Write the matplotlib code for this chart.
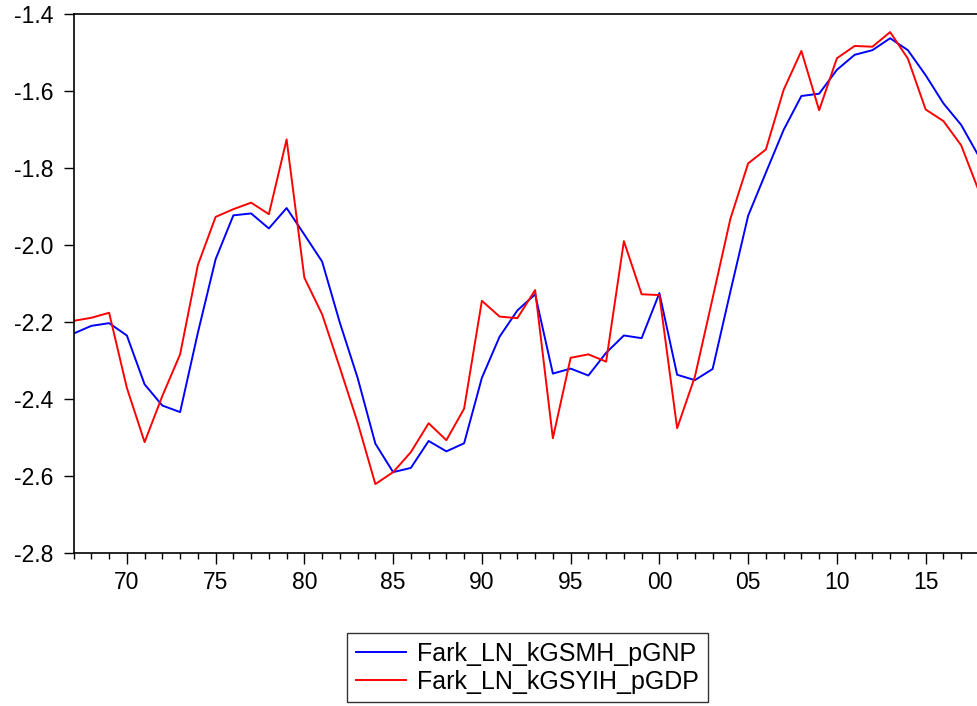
import matplotlib
matplotlib.use("Agg")
import matplotlib.pyplot as plt
from matplotlib.ticker import MultipleLocator, FuncFormatter

plt.rcParams['font.family'] = ['Liberation Sans', 'DejaVu Sans']

years = list(range(1967, 2019))

gnp = [-2.230, -2.210, -2.203, -2.235, -2.362, -2.417, -2.434, -2.228, -2.037, -1.923,
       -1.918, -1.957, -1.904, -1.973, -2.043, -2.202, -2.345, -2.516, -2.590, -2.579,
       -2.509, -2.536, -2.515, -2.345, -2.238, -2.170, -2.128, -2.334, -2.321, -2.339,
       -2.280, -2.235, -2.242, -2.125, -2.337, -2.351, -2.322, -2.121, -1.924, -1.812,
       -1.701, -1.613, -1.607, -1.545, -1.506, -1.494, -1.463, -1.494, -1.559, -1.632,
       -1.688, -1.770]

gdp = [-2.197, -2.189, -2.176, -2.371, -2.512, -2.392, -2.284, -2.052, -1.927, -1.907,
       -1.890, -1.920, -1.726, -2.085, -2.180, -2.319, -2.461, -2.621, -2.590, -2.538,
       -2.463, -2.507, -2.425, -2.145, -2.186, -2.190, -2.117, -2.502, -2.293, -2.284,
       -2.303, -1.990, -2.128, -2.130, -2.476, -2.342, -2.138, -1.932, -1.788, -1.752,
       -1.597, -1.496, -1.650, -1.515, -1.483, -1.485, -1.447, -1.516, -1.648, -1.678,
       -1.741, -1.860]

labels = ['Fark_LN_kGSMH_pGNP', 'Fark_LN_kGSYIH_pGDP']

W, H = 977, 706
fig = plt.figure(figsize=(W / 100, H / 100), dpi=100)
left, right, top, bottom = 73.6, 978.9, 14, 553
ax = fig.add_axes([left / W, 1 - bottom / H, (right - left) / W, (bottom - top) / H])

ax.plot(years, gnp, color='#0000ff', lw=1.4, label=labels[0])
ax.plot(years, gdp, color='#ff0000', lw=1.4, label=labels[1])

ax.set_xlim(1967, 2018)
ax.set_ylim(-2.8, -1.4)
ax.yaxis.set_major_locator(MultipleLocator(0.2))
ax.yaxis.set_major_formatter(FuncFormatter(lambda v, p: f"{v:.1f}".replace('\u2212', '-')))
ax.set_xticks(list(range(1970, 2019, 5)))
ax.set_xticks(years, minor=True)
ax.xaxis.set_major_formatter(FuncFormatter(lambda v, p: f"{int(round(v)) % 100:02d}"))

for s in ['left', 'top', 'bottom', 'right']:
    ax.spines[s].set_linewidth(1.2)
    ax.spines[s].set_color('black')

ax.tick_params(axis='y', which='major', direction='out', length=7.5, width=1.0,
               labelsize=16.5, pad=7, colors='black')
ax.tick_params(axis='x', which='major', direction='out', length=8, width=1.0,
               labelsize=16.5, pad=5, colors='black')
ax.tick_params(axis='x', which='minor', direction='out', length=4, width=1.0)

leg = fig.legend(loc='upper center', bbox_to_anchor=(527.5 / W, 1 - 633 / H),
                 fontsize=18, frameon=True, fancybox=False, edgecolor='black',
                 handlelength=2.0, handletextpad=0.45, labelspacing=0.15,
                 borderpad=0.35, borderaxespad=0)
leg.get_frame().set_linewidth(1.0)

fig.savefig('out.png', dpi=100)
